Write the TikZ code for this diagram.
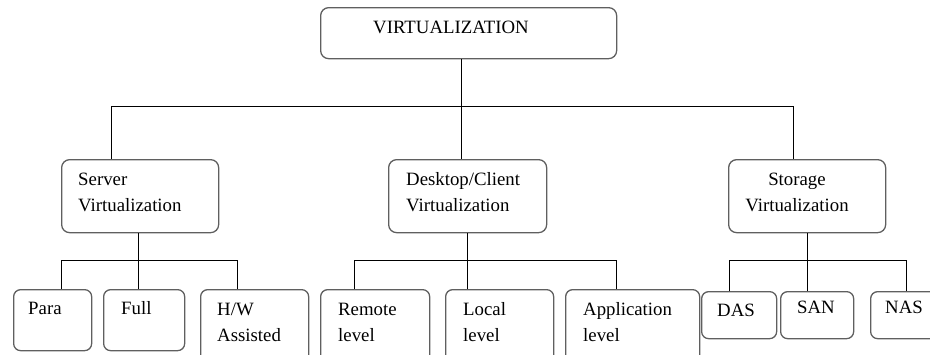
\documentclass[tikz,border=0pt]{standalone}
\usepackage{fontspec}
\setmainfont{Liberation Serif}
\usepackage{tikz}

\begin{document}
\begin{tikzpicture}[x=1pt, y=-1pt,
    every node/.style={font=\fontsize{18.8}{26}\selectfont},
    box/.style={draw=boxline, line width=1.3pt, rounded corners=8pt, anchor=north west, inner sep=0pt},
    txt/.style={anchor=base west, inner sep=0pt},
    conn/.style={line width=1.1pt, black}]
    % Define colors
    \definecolor{boxline}{RGB}{95,95,95}

    \useasboundingbox (0,0) rectangle (930,354);
    \clip (0,0) rectangle (930,354);

    % Root
    \node[box, minimum width=296pt, minimum height=51pt] (virt) at (320,7) {};
    \node[txt] (virttext) at (373,33) {VIRTUALIZATION};

    % Second level (multi-line text sits on its last baseline)
    \node[box, minimum width=157pt, minimum height=73pt] (server) at (61,159) {};
    \node[txt, align=left] (servertext) at (78,211) {Server\\Virtualization};
    \node[box, minimum width=158pt, minimum height=73pt] (desktop) at (388,159) {};
    \node[txt, align=left] (desktoptext) at (406,211) {Desktop/Client\\Virtualization};
    \node[box, minimum width=157pt, minimum height=73pt] (storage) at (728,159) {};
    \node[txt, anchor=base, align=center] (storagetext) at (797,211) {Storage\\Virtualization};

    % Server leaves
    \node[box, rounded corners=7pt, minimum width=78pt, minimum height=61pt] (para) at (13,289) {};
    \node[txt] (paratext) at (28,314) {Para};
    \node[box, rounded corners=7pt, minimum width=81pt, minimum height=61pt] (full) at (103,289) {};
    \node[txt] (fulltext) at (121,314) {Full};
    \node[box, rounded corners=7pt, minimum width=108pt, minimum height=80pt] (hw) at (200,289) {};
    \node[txt, align=left] (hwtext) at (217,341) {H/W\\Assisted};

    % Desktop leaves
    \node[box, rounded corners=7pt, minimum width=109pt, minimum height=80pt] (remote) at (320,289) {};
    \node[txt, align=left] (remotetext) at (338,341) {Remote\\level};
    \node[box, rounded corners=7pt, minimum width=108pt, minimum height=80pt] (local) at (445,289) {};
    \node[txt, align=left] (localtext) at (463,341) {Local\\level};
    \node[box, rounded corners=7pt, minimum width=134pt, minimum height=80pt] (app) at (565,289) {};
    \node[txt, align=left] (apptext) at (583,341) {Application\\level};

    % Storage leaves
    \node[box, rounded corners=7pt, minimum width=75pt, minimum height=47pt] (das) at (701,291) {};
    \node[txt] (dastext) at (717,316) {DAS};
    \node[box, rounded corners=7pt, minimum width=73pt, minimum height=47pt] (san) at (780,291) {};
    \node[txt] (santext) at (797,313) {SAN};
    \node[box, rounded corners=7pt, minimum width=75pt, minimum height=47pt] (nas) at (870,291) {};
    \node[txt] (nastext) at (885,313) {NAS};

    % Root connectors
    \draw[conn] ([xshift=-7pt]virt.south) -- ++(0,47) coordinate (bus1);
    \draw[conn] ([xshift=-28.5pt]server.north) |- (bus1) -| ([xshift=-13.5pt]storage.north);
    \draw[conn] (bus1) -- (bus1 |- desktop.north);

    % Server connectors
    \draw[conn] ([xshift=-1.5pt]server.south) -- ++(0,27) coordinate (bus2);
    \draw[conn] ([xshift=9pt]para.north) |- (bus2) -| ([xshift=-17pt]hw.north);
    \draw[conn] (bus2) -- (bus2 |- full.north);

    % Desktop connectors
    \draw[conn] (desktop.south) -- ++(0,27) coordinate (bus3);
    \draw[conn] ([xshift=-20.5pt]remote.north) |- (bus3) -| ([xshift=-16pt]app.north);
    \draw[conn] (bus3) -- (bus3 |- local.north);

    % Storage connectors
    \draw[conn] (storage.south) -- ++(0,27) coordinate (bus4);
    \draw[conn] ([xshift=-9.5pt]das.north) |- (bus4) -| ([xshift=-1.5pt]nas.north);
    \draw[conn] (bus4) -- (bus4 |- san.north);
\end{tikzpicture}
\end{document}
